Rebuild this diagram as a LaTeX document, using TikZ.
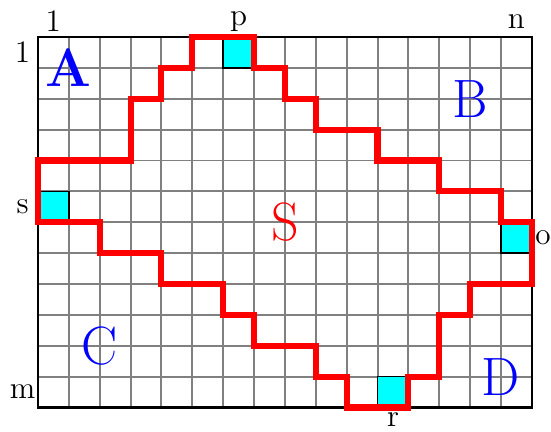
\documentclass[tikz,border=0pt]{standalone}
\usepackage{amsthm,amsfonts,amsmath,amssymb}
\usepackage{color}
\usepackage{tikz}
\definecolor{cyn}{RGB}{0,255,255}

\begin{document}
\begin{tikzpicture}[x=0.5cm,y=-0.5cm]
\tikzset{lab/.style={font=\Large,inner sep=0pt},
reg/.style={font=\Huge,text=blue,inner sep=0pt},
cell/.style={fill=cyn,draw=black,line width=0.8pt}}
\useasboundingbox (-1.23,-1.2) rectangle (16.62,12.78);
\foreach \i in {1,...,15} \draw[gray,line width=0.9pt] (\i,0) -- (\i,12);
\foreach \j in {1,...,11} \draw[gray,line width=0.9pt] (0,\j) -- (16,\j);
\draw[black,line width=1.1pt] (0,0) rectangle (16,12);
\filldraw[cell] (6,0) rectangle (7,1);
\filldraw[cell] (0,5) rectangle (1,6);
\filldraw[cell] (15,6) rectangle (16,7);
\filldraw[cell] (11,11) rectangle (12,12);

\draw[red,line width=2.8pt] (0,4) -- (3,4) -- (3,2) -- (4,2) -- (4,1) -- (5,1) -- (5,0)
-- (7,0) -- (7,1) -- (8,1) -- (8,2) -- (9,2) -- (9,3) -- (11,3) -- (11,4) -- (13,4)
-- (13,5) -- (15,5) -- (15,6) -- (16,6) -- (16,8) -- (14,8) -- (14,9) -- (13,9)
-- (13,11) -- (12,11) -- (12,12) -- (10,12) -- (10,11) -- (9,11) -- (9,10) -- (7,10)
-- (7,9) -- (6,9) -- (6,8) -- (4,8) -- (4,7) -- (2,7) -- (2,6) -- (0,6) -- cycle;

\node (c1) at (0.5,-0.5) [lab] {1};
\node (cp) at (6.5,-0.5) [lab] {p};
\node (cn) at (15.5,-0.5) [lab] {n};
\node (r1) at (-0.5,0.5) [lab] {1};
\node (rs) at (-0.5,5.5) [lab] {s};
\node (rm) at (-0.5,11.5) [lab] {m};
\node (cr) at (11.5,12.4) [lab] {r};
\node (co) at (16.36,6.5) [lab] {o};

\node (A) at (1,1) [reg] {\textbf{A}};
\node (B) at (14,2) [reg] {B};
\node (C) at (2,10) [reg] {C};
\node (D) at (15,11) [reg] {D};
\node (S) at (8,6) [reg,text=red] {S};
\end{tikzpicture}
\end{document}
